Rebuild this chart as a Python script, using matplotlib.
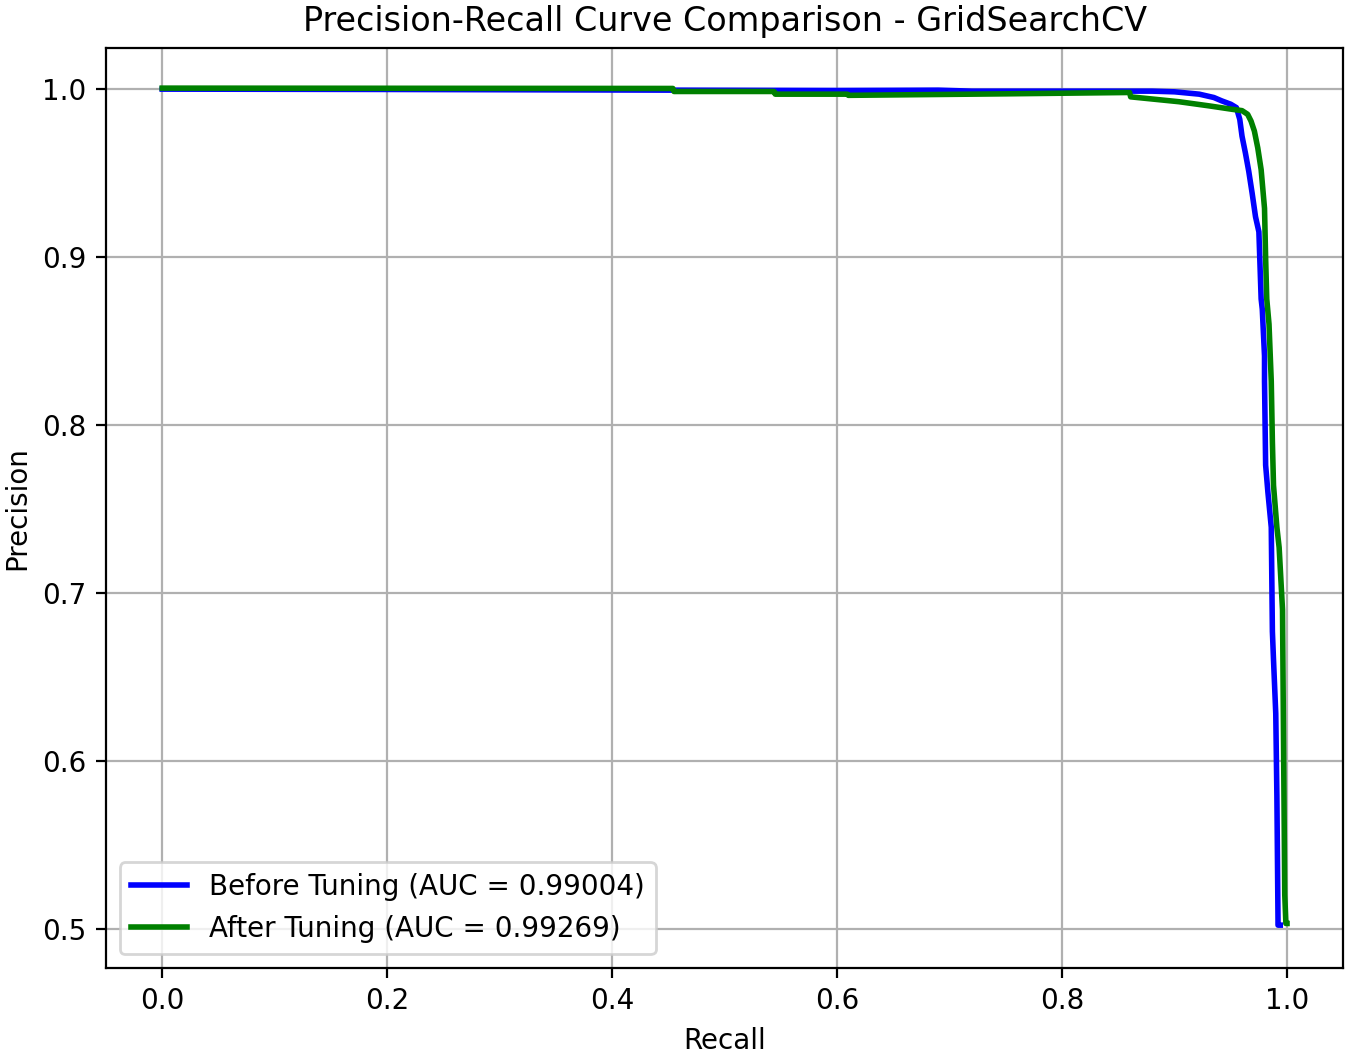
import matplotlib
matplotlib.use("Agg")
import matplotlib.pyplot as plt

# Before tuning (blue)
before_recall = [0.0, 0.2, 0.45, 0.6, 0.65, 0.69, 0.72, 0.88, 0.90, 0.922, 0.935, 0.942,
                 0.950, 0.955, 0.958, 0.960, 0.963, 0.966, 0.969, 0.972, 0.975, 0.976,
                 0.977, 0.978, 0.980, 0.980, 0.981, 0.983, 0.986, 0.987, 0.988, 0.990,
                 0.991, 0.992, 0.992, 0.994]
before_precision = [1.0, 0.9998, 0.9994, 0.9992, 0.9993, 0.9994, 0.9988, 0.9988, 0.9984,
                    0.997, 0.995, 0.993, 0.991, 0.989, 0.982, 0.972, 0.962, 0.951, 0.938,
                    0.924, 0.915, 0.895, 0.875, 0.869, 0.841, 0.826, 0.776, 0.760, 0.739,
                    0.677, 0.660, 0.628, 0.579, 0.505, 0.502, 0.502]

# After tuning (green)
after_recall = [0.0, 0.454, 0.455, 0.544, 0.545, 0.609, 0.610, 0.75, 0.86, 0.861, 0.904,
                0.931, 0.951, 0.960, 0.965, 0.968, 0.971, 0.974, 0.977, 0.980, 0.981, 0.982,
                0.984, 0.986, 0.987, 0.988, 0.991, 0.993, 0.996, 0.997, 0.998, 0.999, 1.0]
after_precision = [1.0006, 1.0004, 0.9986, 0.9986, 0.997, 0.997, 0.9963, 0.9972, 0.998,
                   0.9954, 0.9925, 0.990, 0.988, 0.9872, 0.985, 0.981, 0.975, 0.965, 0.952,
                   0.929, 0.899, 0.875, 0.860, 0.826, 0.790, 0.764, 0.739, 0.727, 0.690,
                   0.604, 0.520, 0.503, 0.503]

before_label = "Before Tuning (AUC = 0.99004)"
after_label = "After Tuning (AUC = 0.99269)"

fig = plt.figure(figsize=(6.75, 5.275), dpi=200)
ax = fig.add_axes([0.0785, 0.0825, 0.9165, 0.872])
ax.plot(before_recall, before_precision, color="blue", lw=2, label=before_label)
ax.plot(after_recall, after_precision, color="green", lw=2, label=after_label)
ax.set_xlim(-0.05, 1.05)
ax.set_ylim(0.4765, 1.0245)
ax.set_xticks([0.0, 0.2, 0.4, 0.6, 0.8, 1.0])
ax.set_yticks([0.5, 0.6, 0.7, 0.8, 0.9, 1.0])
ax.grid(True)
ax.set_xlabel("Recall")
ax.set_ylabel("Precision")
ax.set_title("Precision-Recall Curve Comparison - GridSearchCV", fontsize=12)
ax.legend(loc="lower left")
fig.savefig("out.png", dpi=200)
